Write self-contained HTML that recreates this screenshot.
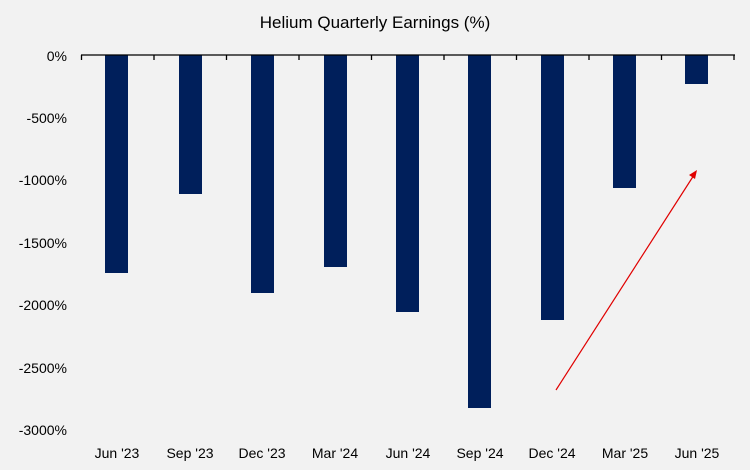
<!DOCTYPE html>
<html><head><meta charset="utf-8"><style>
body{margin:0;background:#f2f2f2;}
svg{display:block;font-family:"Liberation Sans",Arial,sans-serif;}
</style></head><body>
<svg width="750" height="470" viewBox="0 0 750 470">
<rect width="750" height="470" fill="#f2f2f2"/>
<text x="375" y="28" text-anchor="middle" font-size="17" fill="#000">Helium Quarterly Earnings (%)</text>
<g font-size="14" fill="#000" text-anchor="end">
<text x="67" y="61">0%</text>
<text x="67" y="123">-500%</text>
<text x="67" y="185">-1000%</text>
<text x="67" y="248">-1500%</text>
<text x="67" y="310">-2000%</text>
<text x="67" y="373">-2500%</text>
<text x="67" y="435">-3000%</text>
</g>
<g fill="#001f5b">
<rect x="105" y="55" width="23" height="218"/>
<rect x="179" y="55" width="23" height="139"/>
<rect x="251" y="55" width="23" height="238"/>
<rect x="324" y="55" width="23" height="212"/>
<rect x="396" y="55" width="23" height="257"/>
<rect x="468" y="55" width="23" height="353"/>
<rect x="541" y="55" width="23" height="265"/>
<rect x="613" y="55" width="23" height="133"/>
<rect x="685" y="55" width="23" height="29"/>
</g>
<g stroke="#000" stroke-width="1.3">
<line x1="81" y1="55" x2="735" y2="55"/>
<line x1="81.5" y1="55" x2="81.5" y2="60"/>
<line x1="154" y1="55" x2="154" y2="60"/>
<line x1="226.5" y1="55" x2="226.5" y2="60"/>
<line x1="299" y1="55" x2="299" y2="60"/>
<line x1="371.5" y1="55" x2="371.5" y2="60"/>
<line x1="444" y1="55" x2="444" y2="60"/>
<line x1="516.5" y1="55" x2="516.5" y2="60"/>
<line x1="589" y1="55" x2="589" y2="60"/>
<line x1="661.5" y1="55" x2="661.5" y2="60"/>
<line x1="734" y1="55" x2="734" y2="60"/>
</g>
<g font-size="14" fill="#000" text-anchor="middle">
<text x="117" y="458">Jun '23</text>
<text x="190" y="458">Sep '23</text>
<text x="262" y="458">Dec '23</text>
<text x="335" y="458">Mar '24</text>
<text x="408" y="458">Jun '24</text>
<text x="480" y="458">Sep '24</text>
<text x="552" y="458">Dec '24</text>
<text x="625" y="458">Mar '25</text>
<text x="697" y="458">Jun '25</text>
</g>
<line x1="556" y1="390" x2="694" y2="175" stroke="#e00000" stroke-width="1.2"/>
<polygon points="697,170 689,175 695,179" fill="#e00000"/>
</svg>
</body></html>
